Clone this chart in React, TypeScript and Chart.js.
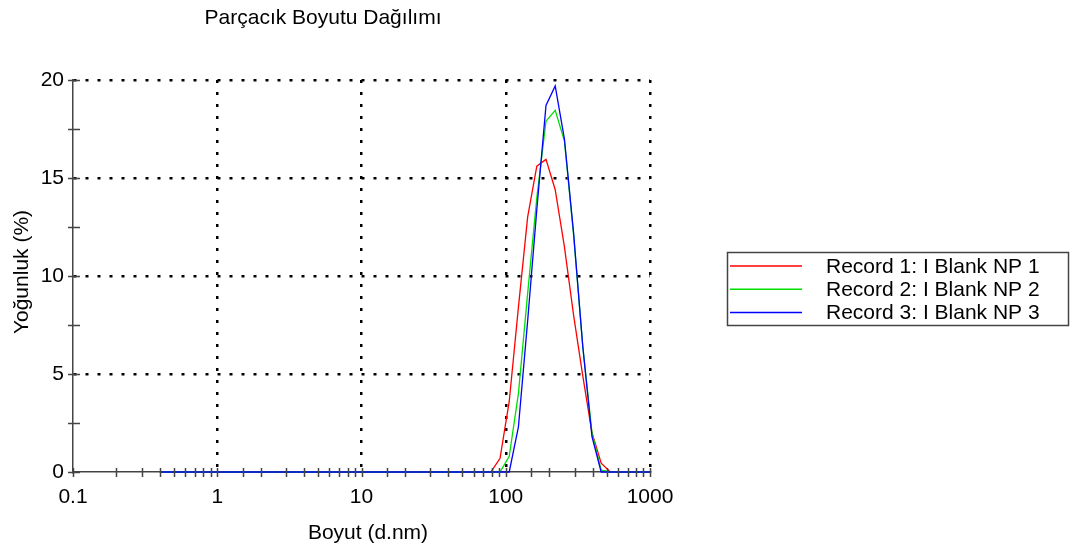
import React, { useEffect, useRef } from 'react';
import { Chart, registerables } from 'chart.js';

Chart.register(...registerables);

const TITLE = 'Parçacık Boyutu Dağılımı';
const X_TITLE = 'Boyut (d.nm)';
const Y_TITLE = 'Yoğunluk (%)';

// Size classes (d.nm)
const SIZES = [
  0.4, 0.4632, 0.5365, 0.6213, 0.7195, 0.8332, 0.9649, 1.117, 1.294, 1.499,
  1.736, 2.01, 2.328, 2.696, 3.122, 3.615, 4.187, 4.849, 5.615, 6.503,
  7.531, 8.721, 10.1, 11.7, 13.54, 15.69, 18.17, 21.04, 24.36, 28.21,
  32.67, 37.84, 43.82, 50.75, 58.77, 68.06, 78.82, 91.28, 105.7, 122.4,
  141.8, 164.2, 190.1, 220.2, 255, 295.3, 342, 396.1, 458.7, 531.2,
  615.1, 712.4, 825, 955.4, 1106,
];

const RECORD_1 = [
  0, 0, 0, 0, 0, 0, 0, 0, 0, 0,
  0, 0, 0, 0, 0, 0, 0, 0, 0, 0,
  0, 0, 0, 0, 0, 0, 0, 0, 0, 0,
  0, 0, 0, 0, 0, 0, 0, 0.7, 3.6, 8.4,
  13.0, 15.6, 15.95, 14.4, 11.5, 8.0, 4.9, 2.0, 0.45, 0,
  0, 0, 0, 0, 0,
];

const RECORD_2 = [
  0, 0, 0, 0, 0, 0, 0, 0, 0, 0,
  0, 0, 0, 0, 0, 0, 0, 0, 0, 0,
  0, 0, 0, 0, 0, 0, 0, 0, 0, 0,
  0, 0, 0, 0, 0, 0, 0, 0, 0.8, 4.0,
  9.1, 14.0, 17.9, 18.45, 16.9, 12.1, 6.4, 2.0, 0.1, 0,
  0, 0, 0, 0, 0,
];

const RECORD_3 = [
  0, 0, 0, 0, 0, 0, 0, 0, 0, 0,
  0, 0, 0, 0, 0, 0, 0, 0, 0, 0,
  0, 0, 0, 0, 0, 0, 0, 0, 0, 0,
  0, 0, 0, 0, 0, 0, 0, 0, 0, 2.3,
  7.7, 13.4, 18.7, 19.7, 17.0, 12.2, 6.4, 1.8, 0, 0,
  0, 0, 0, 0, 0,
];

const SERIES_NAMES = ['Record 1: I Blank NP 1', 'Record 2: I Blank NP 2', 'Record 3: I Blank NP 3'];
const SERIES_VALUES = [RECORD_1, RECORD_2, RECORD_3];
const SERIES_COLORS = ['#ff0000', '#00e000', '#0000ff'];

const X_TICK_LABELS = ['0.1', '1', '10', '100', '1000'];
const Y_MINOR_TICKS = [0, 2.5, 5, 7.5, 10, 12.5, 15, 17.5, 20];

const FONT_FAMILY = '"Liberation Sans", Arial, sans-serif';
const FONT_SIZE = 21;
const AXIS_COLOR = '#444';

const isDecade = (v: number) => {
  if (!(v > 0)) return false;
  const l = Math.log10(v);
  return Math.abs(l - Math.round(l)) < 1e-6;
};

const decorations = {
  id: 'decorations',
  afterDraw(chart: any) {
    const { ctx, chartArea, scales } = chart;
    const xs = scales.x;
    const ys = scales.y;
    ctx.save();

    // tick marks
    ctx.strokeStyle = AXIS_COLOR;
    ctx.lineWidth = 1.5;
    ctx.beginPath();
    xs.ticks.forEach((t: any) => {
      const px = Math.round(xs.getPixelForValue(t.value)) + 0.5;
      ctx.moveTo(px, chartArea.bottom - 4);
      ctx.lineTo(px, chartArea.bottom + 5);
    });
    Y_MINOR_TICKS.forEach((v) => {
      const py = Math.round(ys.getPixelForValue(v)) + 0.5;
      ctx.moveTo(chartArea.left - 5, py);
      ctx.lineTo(chartArea.left + 7, py);
    });
    ctx.stroke();

    // titles
    ctx.fillStyle = '#000';
    ctx.font = `${FONT_SIZE}px ${FONT_FAMILY}`;
    ctx.textAlign = 'center';
    ctx.textBaseline = 'middle';
    ctx.fillText(TITLE, 323, 18);
    ctx.fillText(X_TITLE, 368, 533);
    ctx.save();
    ctx.translate(22, 272);
    ctx.rotate(-Math.PI / 2);
    ctx.fillText(Y_TITLE, 0, 0);
    ctx.restore();

    // legend
    const lx = 727.5, ly = 252.5, lw = 341, lh = 73;
    ctx.strokeStyle = AXIS_COLOR;
    ctx.lineWidth = 1.5;
    ctx.strokeRect(lx, ly, lw, lh);
    ctx.textAlign = 'left';
    SERIES_NAMES.forEach((name, i) => {
      const y = 266 + i * 23.3;
      ctx.strokeStyle = SERIES_COLORS[i];
      ctx.lineWidth = 1.5;
      ctx.beginPath();
      ctx.moveTo(730, y);
      ctx.lineTo(802, y);
      ctx.stroke();
      ctx.fillStyle = '#000';
      ctx.fillText(name, 826, y + 1);
    });

    ctx.restore();
  },
};

export default function App() {
  const canvasRef = useRef<HTMLCanvasElement | null>(null);

  useEffect(() => {
    const canvas = canvasRef.current;
    if (!canvas) return;
    const datasets = SERIES_NAMES.map((name, i) => ({
      label: name,
      data: SIZES.map((s, j) => ({ x: s, y: SERIES_VALUES[i][j] })),
      borderColor: SERIES_COLORS[i],
      backgroundColor: SERIES_COLORS[i],
      borderWidth: 1.3,
      pointRadius: 0,
      tension: 0,
      fill: false,
      clip: { left: 0, top: 5, right: 0, bottom: 5 },
      order: SERIES_NAMES.length - 1 - i,
    }));

    const chart = new Chart(canvas, {
      type: 'line',
      data: { datasets },
      options: {
        animation: false,
        responsive: false,
        maintainAspectRatio: false,
        layout: { padding: { left: 0, top: 80, right: 428, bottom: 0 } },
        plugins: {
          legend: { display: false },
          title: { display: false },
          tooltip: { enabled: false },
        },
        scales: {
          x: {
            type: 'logarithmic',
            min: 0.1,
            max: 1000,
            position: 'bottom',
            afterFit: (s: any) => { s.height = 77; },
            border: { display: true, color: AXIS_COLOR, width: 1.5, dash: [3, 9] },
            grid: {
              drawTicks: false,
              lineWidth: 2.5,
              color: (c: any) => {
                const v = c.tick ? c.tick.value : NaN;
                return isDecade(v) && v > 0.11 ? '#000' : 'rgba(0,0,0,0)';
              },
            },
            ticks: {
              autoSkip: false,
              maxRotation: 0,
              minRotation: 0,
              padding: 13,
              color: '#000',
              font: { family: FONT_FAMILY, size: FONT_SIZE },
              callback: (value: any) => {
                const v = Number(value);
                const lab = X_TICK_LABELS.find((l) => Math.abs(Number(l) - v) < v * 1e-6);
                return lab ?? '';
              },
            },
          },
          y: {
            type: 'linear',
            min: 0,
            max: 20,
            position: 'left',
            afterFit: (s: any) => { s.width = 73; },
            border: { display: true, color: AXIS_COLOR, width: 1.5, dash: [3, 9] },
            grid: {
              drawTicks: false,
              lineWidth: 2.5,
              color: (c: any) => {
                const v = c.tick ? c.tick.value : NaN;
                return v > 0 ? '#000' : 'rgba(0,0,0,0)';
              },
            },
            ticks: {
              stepSize: 5,
              padding: 9,
              color: '#000',
              font: { family: FONT_FAMILY, size: FONT_SIZE },
            },
          },
        },
      },
      plugins: [decorations],
    } as any);

    return () => chart.destroy();
  }, []);

  return (
    <div style={{ position: 'absolute', left: 0, top: 0, width: 1078, height: 549, background: '#fff' }}>
      <canvas ref={canvasRef} width={1078} height={549} style={{ display: 'block', width: 1078, height: 549 }} />
    </div>
  );
}
